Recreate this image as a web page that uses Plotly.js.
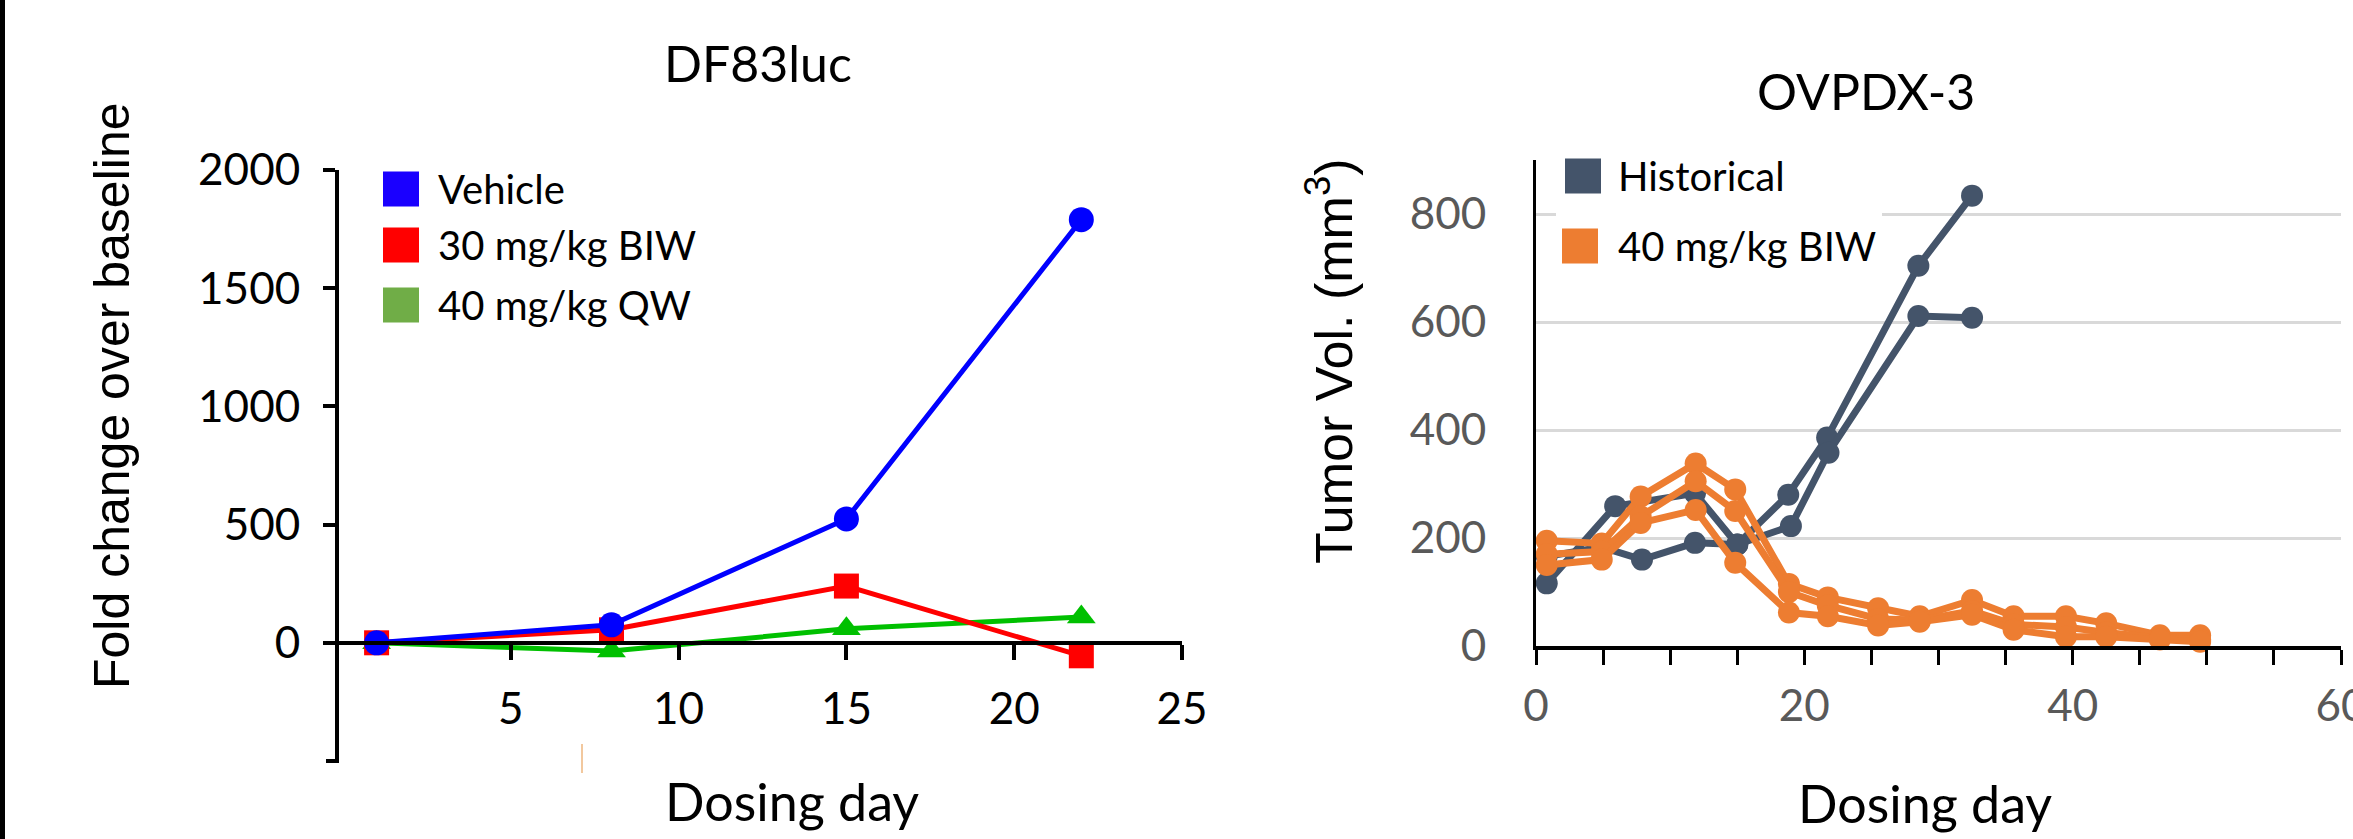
<!DOCTYPE html>
<html>
<head>
<meta charset="utf-8">
<script src="https://cdn.plot.ly/plotly-3.0.1.min.js"></script>
<style>
html,body{margin:0;padding:0;background:#ffffff;}
#chart{width:2353px;height:839px;}
</style>
</head>
<body>
<div id="chart"></div>
<script>
// ---------- Left chart: DF83luc ----------
const dfTitle = 'DF83luc';
const dfDays = [1, 8, 15, 22];
const vehicle = [0, 76, 524, 1790];
const biw30 = [0, 55, 240, -55];
const qw40 = [0, -35, 59, 109];
const dfSeriesNames = ['Vehicle', '30 mg/kg BIW', '40 mg/kg QW'];
const dfXTicks = [5, 10, 15, 20, 25];
const dfYTicks = [0, 500, 1000, 1500, 2000];

// ---------- Right chart: OVPDX-3 ----------
const ovTitle = 'OVPDX-3';
const histDaysA = [0.8, 5.9, 11.85, 15, 18.8, 21.7, 28.5, 32.5];
const historicalA = [116, 259, 283, 188, 280, 386, 704, 834];
const histDaysB = [0.8, 4.9, 7.9, 11.85, 15, 19, 21.8, 28.5, 32.5];
const historicalB = [166, 183, 160, 191, 188, 222, 358, 611, 608];
const biwDays = [0.8, 4.9, 7.8, 11.9, 14.85, 18.85, 21.75, 25.5, 28.6, 32.5, 35.6, 39.5, 42.5, 46.5, 49.5];
const biw40A = [195, 190, 277, 338, 290, 115, 90, 70, 55, 85, 55, 55, 42, 20, 20];
const biw40B = [170, 175, 240, 305, 250, 100, 75, 50, 48, 65, 40, 35, 25, 15, 12];
const biw40C = [150, 160, 228, 252, 154, 62, 55, 38, 45, 58, 30, 17, 17, 12, 8];
const ovSeriesNames = ['Historical', '40 mg/kg BIW'];
const ovXTicks = [0, 20, 40, 60];
const ovYTicks = [0, 200, 400, 600, 800];

// ---------- helpers (pixel -> paper) ----------
const W = 2353, H = 839;
const fx = p => p / W;
const fy = p => 1 - p / H;

const BLUE = '#0000ff', RED = '#ff0000', GREEN = '#00c000';
const BLUE_LEG = '#1a00ff', RED_LEG = '#ff0000', GREEN_LEG = '#70ad47';
const SLATE = '#44546a', ORANGE = '#ed7d31';
const CAL = 'Lato, "Open Sans", sans-serif';
const ARIAL = '"Liberation Sans", Arial, sans-serif';

const traces = [];
function dfTrace(y, color, symbol) {
  return {x: dfDays, y: y, xaxis: 'x', yaxis: 'y', type: 'scatter', mode: 'lines+markers',
    line: {color: color, width: 5}, marker: {color: color, size: 25, symbol: symbol},
    showlegend: false, cliponaxis: false};
}
traces.push(dfTrace(qw40, GREEN, 'triangle-up'));
traces.push(dfTrace(biw30, RED, 'square'));
traces.push(dfTrace(vehicle, BLUE, 'circle'));

function ovTrace(x, y, color) {
  return {x: x, y: y, xaxis: 'x2', yaxis: 'y2', type: 'scatter', mode: 'lines+markers',
    line: {color: color, width: 7}, marker: {color: color, size: 22},
    showlegend: false, cliponaxis: false};
}
traces.push(ovTrace(histDaysA, historicalA, SLATE));
traces.push(ovTrace(histDaysB, historicalB, SLATE));
traces.push(ovTrace(biwDays, biw40A, ORANGE));
traces.push(ovTrace(biwDays, biw40B, ORANGE));
traces.push(ovTrace(biwDays, biw40C, ORANGE));

const shapes = [
  // black strip on the left edge
  {type: 'rect', xref: 'paper', yref: 'paper', x0: 0, x1: fx(5), y0: 0, y1: 1, fillcolor: '#000', line: {width: 0}, layer: 'above'},
  // bottom end tick of the left y axis
  {type: 'line', xref: 'paper', yref: 'paper', x0: fx(326), x1: fx(339), y0: fy(761), y1: fy(761), line: {color: '#000', width: 4}},
  // small orange mark under left x axis
  {type: 'line', xref: 'paper', yref: 'paper', x0: fx(582), x1: fx(582), y0: fy(744), y1: fy(773), line: {color: '#f2c89e', width: 2}},
  // white legend background over gridline (right)
  {type: 'rect', xref: 'paper', yref: 'paper', x0: fx(1556), x1: fx(1882), y0: fy(275), y1: fy(150), fillcolor: '#fff', line: {width: 0}, layer: 'above'}
];
const annotations = [];
function legendItem(x0, yc, color) {
  shapes.push({type: 'rect', xref: 'paper', yref: 'paper', x0: fx(x0), x1: fx(x0 + 36), y0: fy(yc + 17.5), y1: fy(yc - 17.5),
    fillcolor: color, line: {width: 0}, layer: 'above'});
}
const dfLegColors = [BLUE_LEG, RED_LEG, GREEN_LEG];
const dfLegY = [189, 245, 305];
dfSeriesNames.forEach((n, i) => {
  legendItem(383, dfLegY[i], dfLegColors[i]);
  annotations.push({text: n, xref: 'paper', yref: 'paper', x: fx(436), y: fy(dfLegY[i]), xanchor: 'left', yanchor: 'middle',
    showarrow: false, font: {family: CAL, size: 40, color: '#000'}});
});
const ovLegColors = [SLATE, ORANGE];
const ovLegY = [176, 246];
const ovLegX = [1565, 1562];
ovSeriesNames.forEach((n, i) => {
  legendItem(ovLegX[i], ovLegY[i], ovLegColors[i]);
  annotations.push({text: n, xref: 'paper', yref: 'paper', x: fx(1616), y: fy(ovLegY[i]), xanchor: 'left', yanchor: 'middle',
    showarrow: false, font: {family: CAL, size: 40, color: '#000'}});
});
// titles
annotations.push({text: dfTitle, xref: 'paper', yref: 'paper', x: fx(758), y: fy(63), xanchor: 'center', yanchor: 'middle', showarrow: false, font: {family: CAL, size: 50, color: '#000'}});
annotations.push({text: ovTitle, xref: 'paper', yref: 'paper', x: fx(1866), y: fy(91), xanchor: 'center', yanchor: 'middle', showarrow: false, font: {family: CAL, size: 50, color: '#000'}});
annotations.push({text: 'Fold change over baseline', xref: 'paper', yref: 'paper', x: fx(112), y: fy(396), xanchor: 'center', yanchor: 'middle', textangle: -90, showarrow: false, font: {family: ARIAL, size: 50, color: '#000'}});
annotations.push({text: 'Tumor Vol. (mm<sup>3</sup>)', xref: 'paper', yref: 'paper', x: fx(1330), y: fy(362), xanchor: 'center', yanchor: 'middle', textangle: -90, showarrow: false, font: {family: ARIAL, size: 52, color: '#000'}});
annotations.push({text: 'Dosing day', xref: 'paper', yref: 'paper', x: fx(792), y: fy(801), xanchor: 'center', yanchor: 'middle', showarrow: false, font: {family: CAL, size: 52, color: '#000'}});
annotations.push({text: 'Dosing day', xref: 'paper', yref: 'paper', x: fx(1925), y: fy(803), xanchor: 'center', yanchor: 'middle', showarrow: false, font: {family: CAL, size: 52, color: '#000'}});

const layout = {
  width: W, height: H,
  margin: {l: 0, r: 0, t: 0, b: 0, pad: 0},
  paper_bgcolor: '#ffffff', plot_bgcolor: 'rgba(0,0,0,0)',
  showlegend: false,
  xaxis: {domain: [fx(339), fx(1182)], range: [-0.12, 25], anchor: 'free', position: fy(643),
    showline: true, linecolor: '#000', linewidth: 4, ticks: 'outside', ticklen: 15, tickwidth: 4, tickcolor: '#000',
    tickmode: 'array', tickvals: dfXTicks, ticktext: dfXTicks.map(String), ticklabelstandoff: 11,
    tickfont: {family: CAL, size: 44, color: '#000'}, showgrid: false, zeroline: false, automargin: false},
  yaxis: {domain: [fy(761), fy(170)], range: [-500, 2000], anchor: 'x',
    showline: true, linecolor: '#000', linewidth: 4, ticks: 'outside', ticklen: 12, tickwidth: 4, tickcolor: '#000',
    tickmode: 'array', tickvals: dfYTicks, ticktext: dfYTicks.map(String), ticklabelstandoff: 14,
    tickfont: {family: CAL, size: 44, color: '#000'}, showgrid: false, zeroline: false, automargin: false},
  xaxis2: {domain: [fx(1536), fx(2341)], range: [0, 60], anchor: 'y2',
    showline: true, linecolor: '#000', linewidth: 4, ticks: 'outside', ticklen: 15, tickwidth: 3, tickcolor: '#000',
    tickmode: 'array', tickvals: ovXTicks, ticktext: ovXTicks.map(String), ticklabelstandoff: 3,
    ticklabeloverflow: 'allow',
    minor: {dtick: 5, tick0: 0, ticks: 'outside', ticklen: 15, tickwidth: 3, tickcolor: '#000', showgrid: false},
    tickfont: {family: CAL, size: 44, color: '#595959'}, showgrid: false, zeroline: false, automargin: false},
  yaxis2: {domain: [fy(646), fy(160)], range: [0, 900], anchor: 'x2',
    showline: true, linecolor: '#000', linewidth: 3, ticks: '',
    tickmode: 'array', tickvals: ovYTicks, ticktext: ovYTicks.map(String), ticklabelstandoff: 38,
    tickfont: {family: CAL, size: 44, color: '#595959'}, showgrid: true, gridcolor: '#d9d9d9', gridwidth: 3,
    zeroline: false, automargin: false},
  shapes: shapes,
  annotations: annotations
};

Plotly.newPlot('chart', traces, layout, {displayModeBar: false, staticPlot: true});
</script>
</body>
</html>
